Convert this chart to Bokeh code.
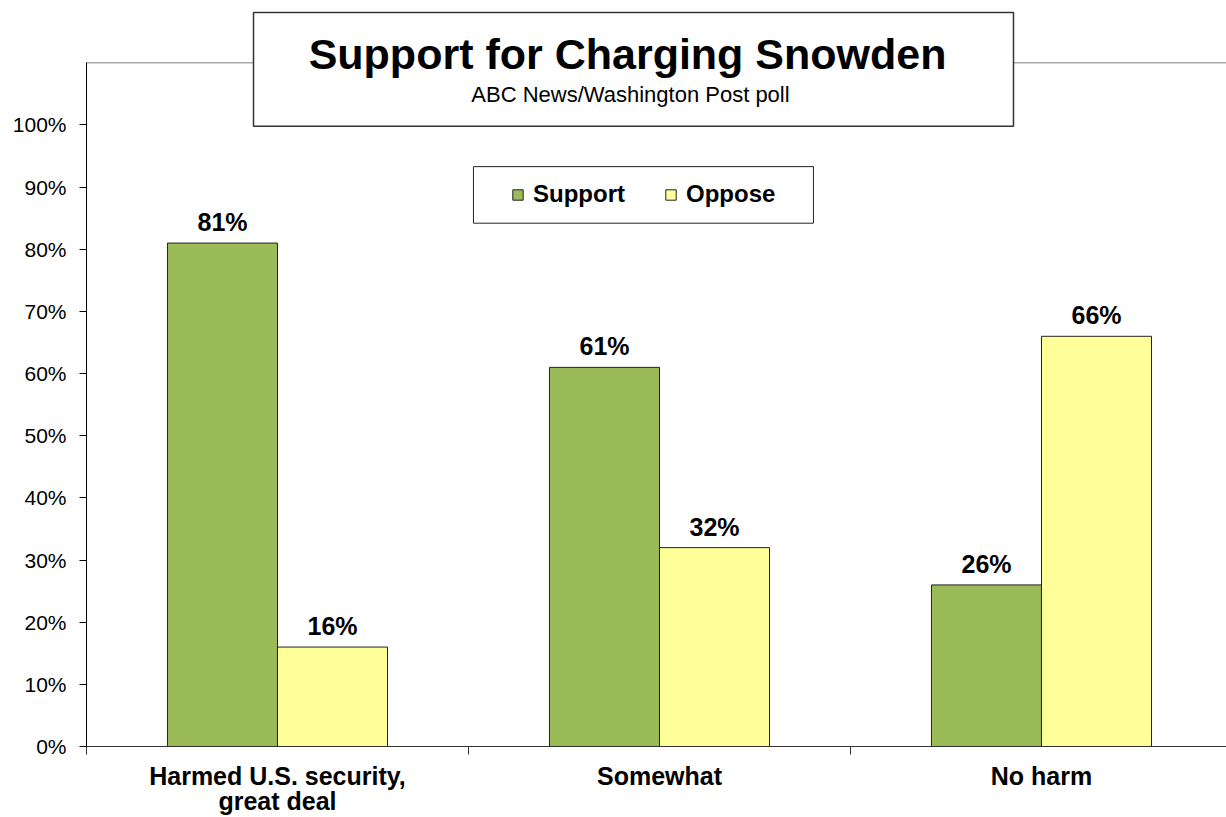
from bokeh.plotting import figure
from bokeh.models import Range1d, FixedTicker, Legend, LegendItem, ColumnDataSource
from bokeh.core.properties import value
from bokeh.embed import file_html
from bokeh.resources import INLINE

# ---- data ----
categories = ["Harmed U.S. security,\ngreat deal", "Somewhat", "No harm"]
support = [81, 61, 26]
oppose = [16, 32, 66]
y_ticks = [0, 10, 20, 30, 40, 50, 60, 70, 80, 90, 100]
y_tick_labels = [f"{v}%" for v in y_ticks]
title_text = "Support  for Charging Snowden"
subtitle_text = "ABC News/Washington  Post poll"
series_names = ["Support", "Oppose"]

GREEN = "#9BBB59"
YELLOW = "#FFFF99"
FONT = "Liberation Sans"

bar_w = 0.288
centers = [i + 0.5 for i in range(len(categories))]
src_s = ColumnDataSource(dict(x=[c - bar_w / 2 for c in centers], top=support,
                              lab=[f"{v}%" for v in support]))
src_o = ColumnDataSource(dict(x=[c + bar_w / 2 for c in centers], top=oppose,
                              lab=[f"{v}%" for v in oppose]))

p = figure(width=1226, height=817, output_backend="svg", toolbar_location=None,
           x_range=Range1d(0, 2.9843), y_range=Range1d(0, 120.03),
           min_border_left=86, min_border_right=0, min_border_top=0,
           min_border_bottom=70)
p.outline_line_color = None
p.background_fill_color = "white"
p.xgrid.visible = False
p.ygrid.visible = False

# plot-area top border
p.segment(x0=[0], y0=[110], x1=[3], y1=[110], line_color="#808080", line_width=1)

# bars
rs = p.vbar(x="x", top="top", width=bar_w, bottom=0, source=src_s,
            fill_color=GREEN, line_color="#222222", line_width=1)
ro = p.vbar(x="x", top="top", width=bar_w, bottom=0, source=src_o,
            fill_color=YELLOW, line_color="#222222", line_width=1)

for src in (src_s, src_o):
    p.text(x="x", y="top", text="lab", source=src, text_align="center",
           text_baseline="middle", y_offset=-21, text_font=value(FONT),
           text_font_style="bold", text_font_size="25px", text_color="black")

# title box
p.quad(left=[0.4372], right=[2.4267], bottom=[99.8], top=[118.1],
       fill_color="white", line_color="#333333", line_width=1.5)
p.text(x=[1.432], y=[118.1], text=[title_text], text_align="center",
       text_baseline="middle", y_offset=42, text_font=value(FONT),
       text_font_style="bold", text_font_size="43px", text_color="black")
p.text(x=[1.432], y=[118.1], text=[subtitle_text], text_align="center",
       text_baseline="middle", y_offset=82, text_font=value(FONT),
       text_font_size="22px", text_color="black")

# legend box
p.quad(left=[1.013], right=[1.903], bottom=[84.2], top=[93.3],
       fill_color="white", line_color="#222222", line_width=1)

legend = Legend(items=[LegendItem(label=series_names[0], renderers=[rs]),
                       LegendItem(label=series_names[1], renderers=[ro])],
                orientation="horizontal", location=(425, 538),
                padding=0, margin=0, spacing=39, label_standoff=9,
                glyph_width=13, glyph_height=13, label_height=28,
                label_text_font=FONT, label_text_font_style="bold",
                label_text_font_size="24px", label_text_color="black",
                border_line_alpha=0, background_fill_alpha=0)
p.add_layout(legend)

# y axis
p.yaxis.ticker = FixedTicker(ticks=y_ticks)
p.yaxis.major_label_overrides = {v: l for v, l in zip(y_ticks, y_tick_labels)}
p.yaxis.bounds = (0, 110)
p.yaxis.major_tick_out = 7
p.yaxis.major_tick_in = 0
p.yaxis.minor_tick_line_color = None
p.yaxis.axis_line_color = "black"
p.yaxis.major_tick_line_color = "black"
p.yaxis.major_label_standoff = 13
p.yaxis.major_label_text_font = FONT
p.yaxis.major_label_text_font_size = "21px"
p.yaxis.major_label_text_color = "black"

# x axis
p.xaxis.ticker = FixedTicker(ticks=centers, minor_ticks=[0, 1, 2, 3])
p.xaxis.major_label_overrides = {c: l for c, l in zip(centers, categories)}
p.xaxis.major_tick_out = 0
p.xaxis.major_tick_in = 0
p.xaxis.minor_tick_out = 8
p.xaxis.minor_tick_in = 0
p.xaxis.minor_tick_line_color = "#333333"
p.xaxis.axis_line_color = "#333333"
p.xaxis.major_label_standoff = 7
p.xaxis.major_label_text_font = FONT
p.xaxis.major_label_text_font_style = "bold"
p.xaxis.major_label_text_font_size = "25px"
p.xaxis.major_label_text_line_height = 0.9
p.xaxis.major_label_text_color = "black"

open("out.html", "w").write(file_html(p, INLINE))
